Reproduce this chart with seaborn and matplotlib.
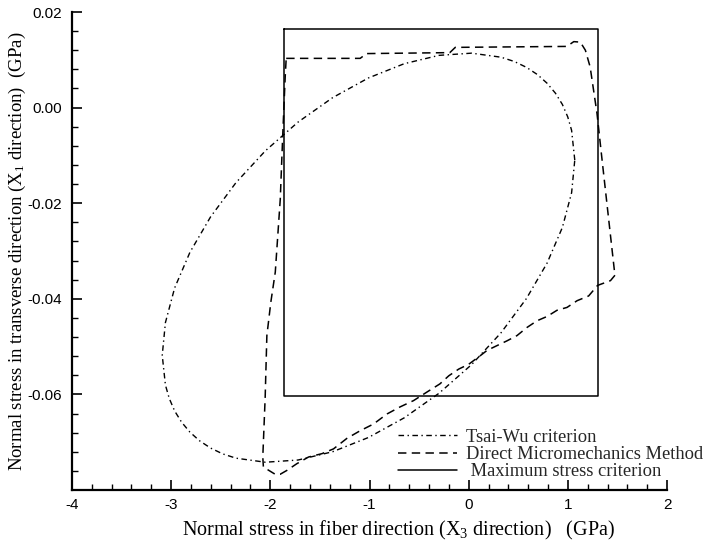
import numpy as np
import pandas as pd
import matplotlib
matplotlib.use("Agg")
import matplotlib.pyplot as plt
import seaborn as sns
from matplotlib.ticker import FixedLocator, MultipleLocator, FuncFormatter

# === DATI ===
# Tsai-Wu criterion (ellisse)
tsai_x = [1.070, 1.038, 0.999, 0.945, 0.875, 0.791, 0.694, 0.583, 0.461, 0.327,
          0.030, -0.299, -0.649, -1.010, -1.371, -1.721, -2.050, -2.347, -2.603,
          -2.811, -2.965, -3.058, -3.090, -3.058, -3.019, -2.965, -2.895, -2.811,
          -2.714, -2.603, -2.481, -2.347, -2.050, -1.721, -1.371, -1.010, -0.649,
          -0.299, 0.030, 0.327, 0.583, 0.791, 0.945, 1.038, 1.070]
tsai_y = [-0.01098, -0.00476, -0.00194, 0.00066, 0.00301, 0.00509, 0.00690, 0.00842,
          0.00964, 0.01054, 0.01139, 0.01093, 0.00919, 0.00621, 0.00209, -0.00304,
          -0.00904, -0.01571, -0.02287, -0.03028, -0.03773, -0.04498, -0.05182,
          -0.05804, -0.06086, -0.06346, -0.06581, -0.06789, -0.06970, -0.07122,
          -0.07244, -0.07334, -0.07419, -0.07373, -0.07199, -0.06901, -0.06489,
          -0.05976, -0.05376, -0.04709, -0.03993, -0.03252, -0.02507, -0.01782,
          -0.01098]

# Direct Micromechanics Method
dmm_x = [-1.84, -1.094, -1.03, -0.19, -0.135, 0.99, 1.06, 1.126, 1.177, 1.225,
         1.294, 1.345, 1.412, 1.469, 1.478, 1.43, 1.30, 1.21, 1.093, 0.992,
         0.891, 0.790, 0.689, 0.588, 0.487, 0.386, 0.285, 0.185, 0.117, 0.0,
         -0.10, -0.20, -0.29, -0.42, -0.556, -0.69, -0.824, -0.96, -1.094, -1.228,
         -1.363, -1.48, -1.615, -1.733, -1.833, -1.90, -1.952, -2.07, -2.076,
         -2.052, -2.035, -1.995, -1.95, -1.90, -1.874, -1.85, -1.84]
dmm_y = [0.0103, 0.0103, 0.0113, 0.0115, 0.0126, 0.0128, 0.0138, 0.0137, 0.0120, 0.0085,
         -0.0012, -0.0109, -0.0234, -0.0340, -0.0350, -0.0362, -0.0372, -0.0394, -0.0404,
         -0.0418, -0.0424, -0.0437, -0.0446, -0.0460, -0.0477, -0.0488, -0.0498, -0.0508,
         -0.0519, -0.0537, -0.0547, -0.0561, -0.0578, -0.0595, -0.0613, -0.0626, -0.0641,
         -0.0662, -0.0676, -0.0692, -0.0714, -0.0724, -0.0731, -0.0745, -0.0759, -0.0767,
         -0.0767, -0.0752, -0.0731, -0.0606, -0.0477, -0.0407, -0.0344, -0.0192, -0.0053,
         0.0065, 0.0103]

# Maximum stress criterion (rettangolo)
max_x = [-1.86, 1.30, 1.30, -1.86, -1.86]
max_y = [0.0165, 0.0165, -0.0604, -0.0604, 0.0165]

x_ticks = [-4, -3, -2, -1, 0, 1, 2]
y_ticks = [-0.08, -0.06, -0.04, -0.02, 0.00, 0.02]

# === STILE ===
sns.set_theme(style="ticks")
plt.rcParams['font.family'] = ['Liberation Serif', 'DejaVu Serif']
plt.rcParams['mathtext.fontset'] = 'custom'
plt.rcParams['mathtext.rm'] = 'Liberation Serif'
plt.rcParams['mathtext.it'] = 'Liberation Serif:italic'
plt.rcParams['axes.unicode_minus'] = False

fig = plt.figure(figsize=(7.1, 5.49), dpi=100)
ax = fig.add_axes([72/710, 59/549, 595/710, 478/549])

sns.lineplot(x=tsai_x, y=tsai_y, sort=False, estimator=None, ax=ax, color='black',
             linewidth=1.0, linestyle=(0, (4, 2.5, 1, 2.5)), label="Tsai-Wu criterion")
sns.lineplot(x=dmm_x, y=dmm_y, sort=False, estimator=None, ax=ax, color='black',
             linewidth=1.1, linestyle=(0, (5.5, 3.5)), label="Direct Micromechanics Method")
sns.lineplot(x=max_x, y=max_y, sort=False, estimator=None, ax=ax, color='black',
             linewidth=1.1, linestyle='-', label=" Maximum stress criterion")

ax.set_xlim(-4, 2)
ax.set_ylim(-0.08, 0.02)
ax.xaxis.set_major_locator(FixedLocator(x_ticks))
ax.xaxis.set_minor_locator(MultipleLocator(0.2))
ax.yaxis.set_major_locator(FixedLocator(y_ticks))
ax.yaxis.set_minor_locator(MultipleLocator(0.004))
ax.xaxis.set_major_formatter(FuncFormatter(lambda v, p: f"{v:.0f}"))
ax.yaxis.set_major_formatter(FuncFormatter(lambda v, p: "" if v < -0.07 else f"{v:.2f}"))

for lab in ax.get_xticklabels() + ax.get_yticklabels():
    lab.set_family(['Liberation Sans', 'DejaVu Sans'])
    lab.set_fontsize(11)
ax.tick_params(which='major', direction='in', length=7, width=1.2, colors='black', pad=6)
ax.tick_params(which='minor', direction='in', length=4, width=1.0, colors='black')
ax.tick_params(axis='y', which='major', pad=7)

sns.despine(ax=ax)
for s in ['left', 'bottom']:
    ax.spines[s].set_linewidth(1.6)
    ax.spines[s].set_color('black')

ax.set_xlabel("Normal stress in fiber direction (X$_{3}$ direction)   (GPa)",
              fontsize=14.5, color='black')
ax.set_ylabel("Normal stress in transverse direction (X$_{1}$ direction)  (GPa)",
              fontsize=13.5, color='black')
ax.xaxis.set_label_coords(0.549, -0.060)
ax.yaxis.set_label_coords(-0.074, 0.5)

ax.legend(loc='lower left', bbox_to_anchor=(0.548, 0.02), frameon=False, fontsize=13.3,
          handlelength=3.2, handletextpad=0.5, labelspacing=0.02, borderpad=0,
          borderaxespad=0)

fig.savefig("out.png", dpi=100)
